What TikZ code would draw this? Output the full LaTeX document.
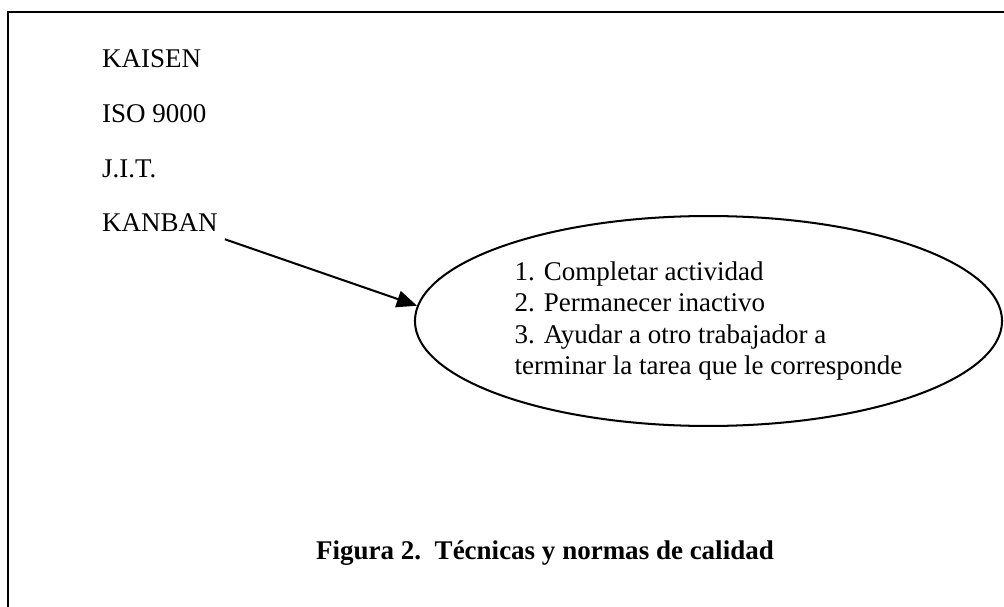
\documentclass[tikz,border=0pt]{standalone}
\usepackage{fontspec}
\setmainfont{Liberation Serif}
\usetikzlibrary{shapes.geometric, arrows.meta, positioning}

\begin{document}
\begin{tikzpicture}[
    x=0.4444pt, y=-0.4444pt,
    tecnica/.style={anchor=base west, inner sep=3pt, font=\fontsize{12}{13.8}\selectfont},
    globo/.style={ellipse, draw, line width=0.9pt, minimum width=260.9pt, minimum height=93.3pt,
      align=left, inner sep=0pt, font=\fontsize{12}{13.8}\selectfont},
  ]

  \useasboundingbox (0,0) rectangle (1004,607);

  \draw[line width=1.2pt] (8,620) -- (8,12) -- (1020,12);

  \node[tecnica] (kaisen) at (95,68) {KAISEN};
  \node[tecnica] (iso) at (95,123) {ISO 9000};
  \node[tecnica] (jit) at (95,178) {J.I.T.};
  \node[tecnica] (kanban) at (95,232) {KANBAN};

  \node[globo] (opciones) at (708.5,321) {1. Completar actividad\\
    2. Permanecer inactivo\\
    3. Ayudar a otro trabajador a\\
    terminar la tarea que le corresponde};

  \draw[line width=0.9pt, -{Triangle[length=9pt, width=7.5pt]}] (kanban.south east) -- (opciones.177);

  \node[anchor=base, font=\fontsize{12}{13.8}\selectfont\bfseries] (figura) at (545,559)
    {Figura 2.\ \ Técnicas y normas de calidad};
\end{tikzpicture}
\end{document}
